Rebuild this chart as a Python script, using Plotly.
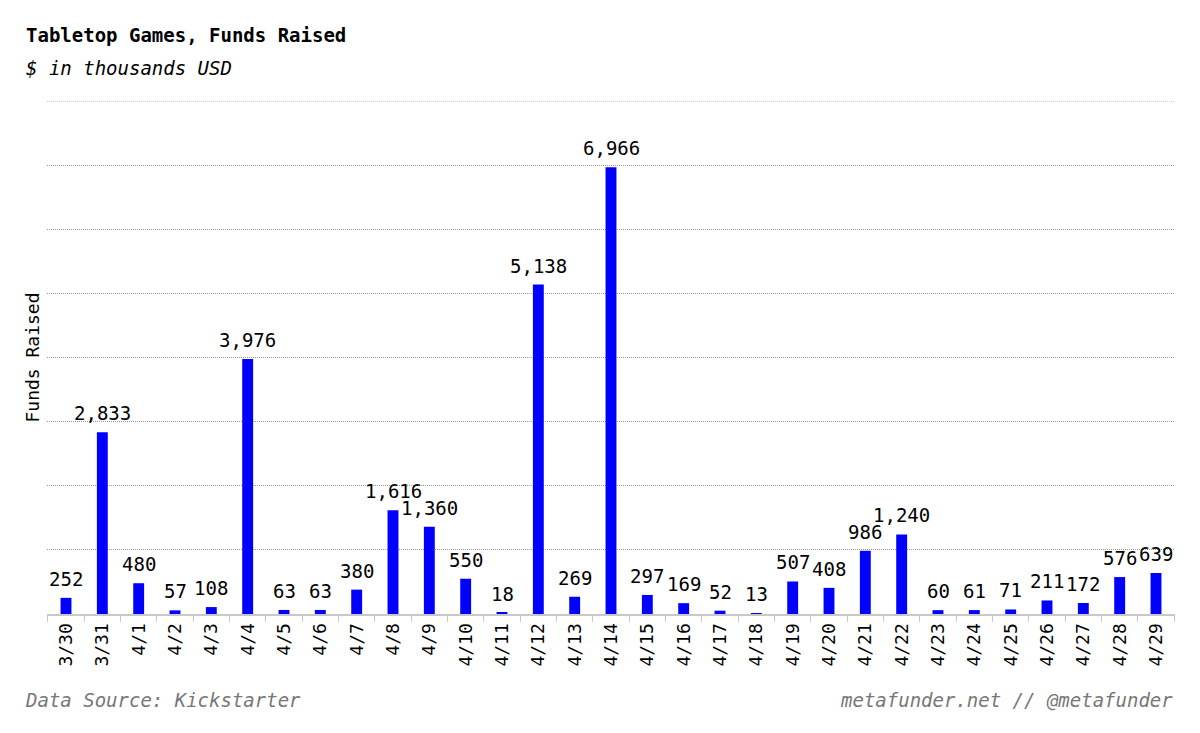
import plotly.graph_objects as go

dates = ["3/30", "3/31", "4/1", "4/2", "4/3", "4/4", "4/5", "4/6", "4/7", "4/8",
         "4/9", "4/10", "4/11", "4/12", "4/13", "4/14", "4/15", "4/16", "4/17", "4/18",
         "4/19", "4/20", "4/21", "4/22", "4/23", "4/24", "4/25", "4/26", "4/27", "4/28", "4/29"]
funds = [252, 2833, 480, 57, 108, 3976, 63, 63, 380, 1616,
         1360, 550, 18, 5138, 269, 6966, 297, 169, 52, 13,
         507, 408, 986, 1240, 60, 61, 71, 211, 172, 576, 639]

FONT = "DejaVu Sans Mono"

fig = go.Figure(go.Bar(
    x=dates, y=funds,
    marker=dict(color="#0000ff", line=dict(width=0)),
    cliponaxis=False,
))

# value labels above bars
for d, v in zip(dates, funds):
    fig.add_annotation(x=d, y=v, xref="x", yref="y", text=f"{v:,}",
                       showarrow=False, yanchor="middle", yshift=19,
                       font=dict(family=FONT, size=19, color="black"))

fig.update_layout(
    width=1200, height=733,
    margin=dict(l=47, r=25, t=101, b=119),
    plot_bgcolor="white", paper_bgcolor="white",
    bargap=0.7,
    showlegend=False,
    font=dict(family=FONT, color="black"),
    xaxis=dict(
        type="category",
        tickangle=-90,
        tickfont=dict(family=FONT, size=18, color="black"),
        showline=True, linecolor="#c8c8c8", linewidth=2,
        ticks="outside", ticklen=6, tickcolor="#c8c8c8", tickwidth=1,
        tickson="boundaries",
        showgrid=False,
    ),
    yaxis=dict(
        range=[0, 8000],
        dtick=1000,
        showticklabels=False,
        showgrid=True, gridcolor="#999999", griddash="1px,1px", gridwidth=1,
        zeroline=False,
        title=dict(text="Funds Raised", font=dict(family=FONT, size=18, color="black"), standoff=1),
    ),
)

# top gridline at the range edge
fig.add_shape(type="line", xref="paper", yref="y", x0=0, x1=1, y0=8000, y1=8000,
              line=dict(color="#999999", width=1, dash="1px,1px"))

pw = 1200 - 47 - 25
ph = 733 - 101 - 119
def px(x): return (x - 47) / pw
def py(y): return (733 - 119 - y) / ph

texts = [
    ("<b>Tabletop Games, Funds Raised</b>", 24, 35, "left", "black"),
    ("<i>$ in thousands USD</i>", 24, 68, "left", "black"),
    ("<i>Data Source: Kickstarter</i>", 23, 700, "left", "#777777"),
    ("<i>metafunder.net // @metafunder</i>", 1175, 700, "right", "#777777"),
]
for t, x, y, anc, col in texts:
    fig.add_annotation(text=t, x=px(x), y=py(y), xref="paper", yref="paper",
                       showarrow=False, xanchor=anc, yanchor="middle",
                       font=dict(family=FONT, size=19, color=col))

fig.write_html("out.html")
